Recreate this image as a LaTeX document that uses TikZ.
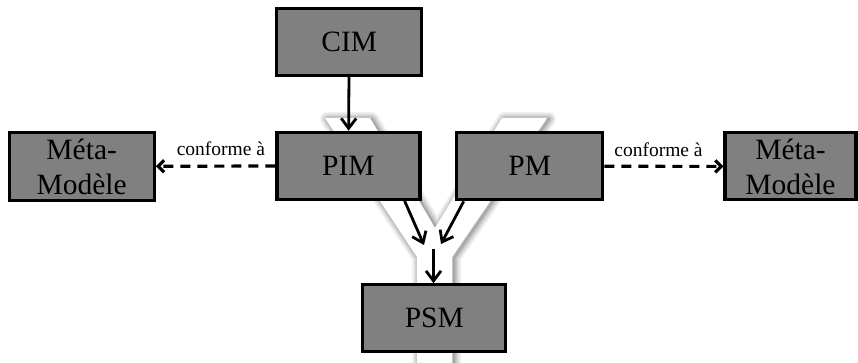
\documentclass[tikz,border=0pt]{standalone}
\usepackage{fontspec}
\setmainfont{Liberation Serif}
\usetikzlibrary{arrows.meta}
\tikzset{
  box/.style={draw=black, line width=3.2pt, fill=gray50, inner sep=0pt, align=center,
    font=\fontsize{29.5}{35}\selectfont},
  arr/.style={line width=2.8pt, -{Straight Barb[length=10pt,width=15pt,line width=2.8pt]}},
  dasharr/.style={line width=3.2pt, dash pattern=on 10pt off 7pt,
    -{Straight Barb[length=6pt,width=12pt,line width=3.2pt]}},
  lbl/.style={font=\fontsize{19.5}{22}\selectfont, inner sep=0pt, above=8.5pt, pos=0.455},
}
\definecolor{gray50}{HTML}{808080}
\begin{document}
\begin{tikzpicture}[x=1pt,y=-1pt]
\useasboundingbox (0,0) rectangle (858,363);
\fill[white] (0,0) rectangle (858,363);
% Y shape with soft shadow
\def\ypath{(325,118) -- (370,118) -- (435,228) -- (502,118) -- (547,118) -- (452,257) -- (452,366) -- (417,366) -- (417,257) -- cycle}
\foreach \w/\o in {14/0.05,11/0.06,8/0.07,5/0.09,2/0.12}{
  \draw[black, opacity=\o, line width=\w pt, line join=round, shift={(2,1)}] \ypath;
}
\fill[white] \ypath;
% boxes
\node[box, minimum width=145pt, minimum height=67pt] (CIM) at (349.2,41.7) {CIM};
\node[box, minimum width=143pt, minimum height=67pt] (PIM) at (348.4,165.8) {PIM};
\node[box, minimum width=146pt, minimum height=67pt] (PM) at (529.7,166.3) {PM};
\node[box, minimum width=143pt, minimum height=67pt] (PSM) at (434.3,318.3) {PSM};
\node[box, minimum width=145pt, minimum height=68pt] (MML) at (81.7,166.5) {Méta-\\Modèle};
\node[box, minimum width=131pt, minimum height=67pt] (MMR) at (790.5,166.4) {Méta-\\Modèle};
% merge coordinates
\coordinate (ml) at (424,245);
\coordinate (mr) at (441,244);
\coordinate (mc) at (433.5,249);
% connectors
\draw[arr] (CIM) -- (PIM);
\draw[arr] (PIM.-32.7) -- (ml);
\draw[arr] (PM.-152) -- (mr);
\draw[arr] (mc) -- (mc |- PSM.north);
\draw[dasharr] (PIM) -- node[lbl] {conforme à} (MML);
\draw[dasharr] (PM) -- node[lbl] {conforme à} (MMR);
\end{tikzpicture}
\end{document}
